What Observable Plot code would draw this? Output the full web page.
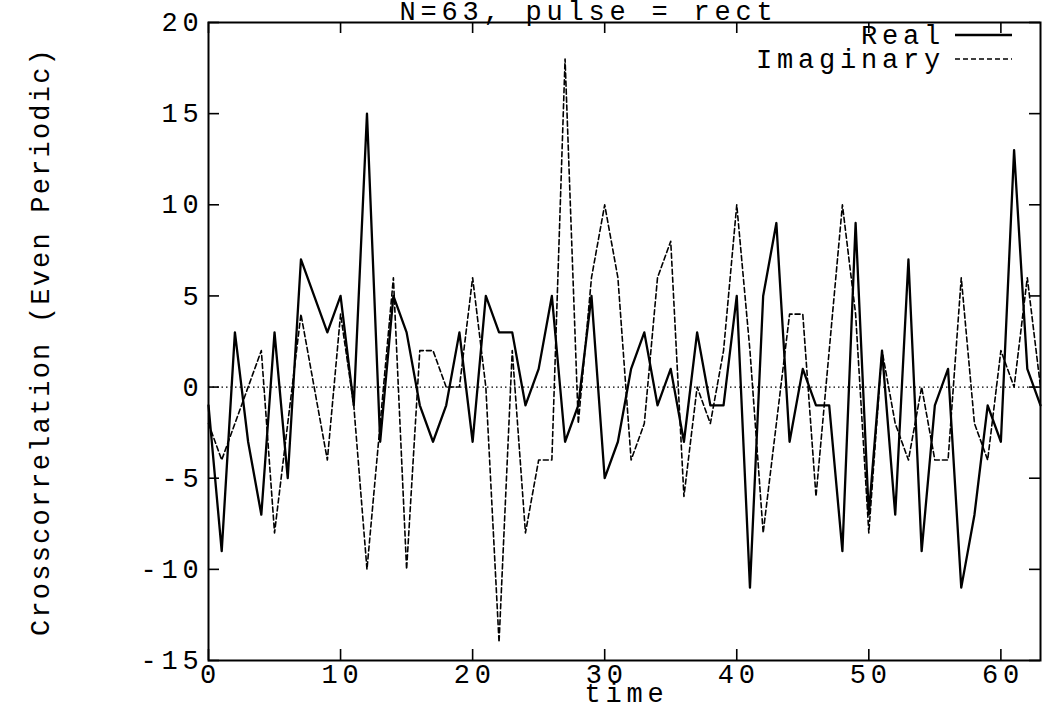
<!DOCTYPE html>
<html>
<head>
<meta charset="utf-8">
<script src="https://cdn.jsdelivr.net/npm/d3@7"></script>
<script src="https://cdn.jsdelivr.net/npm/@observablehq/plot@0.6"></script>
<style>
  body { margin: 0; background: #fff; }
  #chart svg { display: block; }
</style>
</head>
<body>
<div id="chart"></div>
<script>
// ---- data ----
const time = [0,1,2,3,4,5,6,7,8,9,10,11,12,13,14,15,16,17,18,19,20,21,22,23,24,25,26,27,28,29,30,31,
              32,33,34,35,36,37,38,39,40,41,42,43,44,45,46,47,48,49,50,51,52,53,54,55,56,57,58,59,60,61,62,63];
const realValues = [-1,-9,3,-3,-7,3,-5,7,5,3,5,-1,15,-3,5,3,-1,-3,-1,3,-3,5,3,3,-1,1,5,-3,-1,5,-5,-3,
                    1,3,-1,1,-3,3,-1,-1,5,-11,5,9,-3,1,-1,-1,-9,9,-7,2,-7,7,-9,-1,1,-11,-7,-1,-3,13,1,-1];
const imagValues = [-2,-4,-2,0,2,-8,-2,4,0,-4,4,-1,-10,-2,6,-10,2,2,0,0,6,0,-14,2,-8,-4,-4,18,-2,6,10,6,
                    -4,-2,6,8,-6,0,-2,2,10,2,-8,-2,4,4,-6,2,10,4,-8,2,-2,-4,0,-4,-4,6,-2,-4,2,0,6,0];
const xTicks = [0,10,20,30,40,50,60];
const yTicks = [-15,-10,-5,0,5,10,15,20];
const seriesNames = ["Real", "Imaginary"];
const titleText = "N=63, pulse = rect";
const xLabel = "time";
const yLabel = "Crosscorrelation (Even Periodic)";

// ---- layout ----
const W = 1043, H = 706;
const mL = 208, mR = 3, mT = 22, mB = 46;
const fw = W - mL - mR, fh = H - mT - mB;
const FONT = '"Liberation Mono", "DejaVu Sans Mono", monospace';
const FS = 27;
const LS = "4.8px";
const fmt = d => String(d); // plain hyphen-minus like the original

const realData = time.map((t, i) => ({t, v: realValues[i]}));
const imagData = time.map((t, i) => ({t, v: imagValues[i]}));

const plot = Plot.plot({
  width: W, height: H,
  marginLeft: mL, marginRight: mR, marginTop: mT, marginBottom: mB,
  style: {fontFamily: FONT, fontSize: FS + "px", color: "black", background: "white", overflow: "visible", letterSpacing: LS},
  x: {domain: [0, 63]},
  y: {domain: [-15, 20]},
  marks: [
    Plot.ruleY([0], {stroke: "black", strokeWidth: 1.3, strokeDasharray: "1.5,3"}),
    Plot.line(imagData, {x: "t", y: "v", stroke: "black", strokeWidth: 1.6, strokeDasharray: "5,3"}),
    Plot.line(realData, {x: "t", y: "v", stroke: "black", strokeWidth: 2.3}),
    Plot.tickY(yTicks, {y: d => d, insetRight: fw - 11, stroke: "black", strokeWidth: 1.6}),
    Plot.tickY(yTicks, {y: d => d, insetLeft: fw - 11, stroke: "black", strokeWidth: 1.6}),
    Plot.tickX(xTicks, {x: d => d, insetTop: fh - 11, stroke: "black", strokeWidth: 1.6}),
    Plot.tickX(xTicks, {x: d => d, insetBottom: fh - 11, stroke: "black", strokeWidth: 1.6}),
    Plot.frame({stroke: "black", strokeWidth: 2}),
    Plot.axisY({ticks: yTicks, tickSize: 0, tickPadding: 5, label: null, fontSize: FS, tickFormat: fmt}),
    Plot.axisX({ticks: xTicks, tickSize: 0, tickPadding: 3, dx: 2, label: null, fontSize: FS, tickFormat: fmt}),
    Plot.text([titleText], {text: d => d, frameAnchor: "top", lineAnchor: "middle", dx: -36, dy: -11, fontSize: FS}),
    Plot.text([xLabel], {text: d => d, frameAnchor: "bottom", lineAnchor: "middle", dx: 2, dy: 33, fontSize: FS}),
    Plot.text([yLabel], {text: d => d, frameAnchor: "left", dx: -168, rotate: -90, textAnchor: "middle", fontSize: FS})
  ]
});

// ---- legend (top right, inside frame) ----
const svg = d3.select(plot);
svg.selectAll("text").filter(function() { return this.textContent === yLabel; })
   .style("letter-spacing", "2.2px");
const lg = svg.append("g").attr("font-family", FONT).attr("font-size", FS).style("letter-spacing", LS);
const rows = [
  {name: seriesNames[0], y: 35, dash: null, w: 2.3},
  {name: seriesNames[1], y: 59, dash: "5,3", w: 1.6}
];
rows.forEach(r => {
  lg.append("text").attr("x", 945).attr("y", r.y).attr("dy", "0.35em")
    .attr("text-anchor", "end").attr("fill", "black").text(r.name);
  lg.append("line").attr("x1", 955).attr("x2", 1012).attr("y1", r.y).attr("y2", r.y)
    .attr("stroke", "black").attr("stroke-width", r.w)
    .attr("stroke-dasharray", r.dash);
});

document.getElementById("chart").appendChild(plot);
</script>
</body>
</html>
